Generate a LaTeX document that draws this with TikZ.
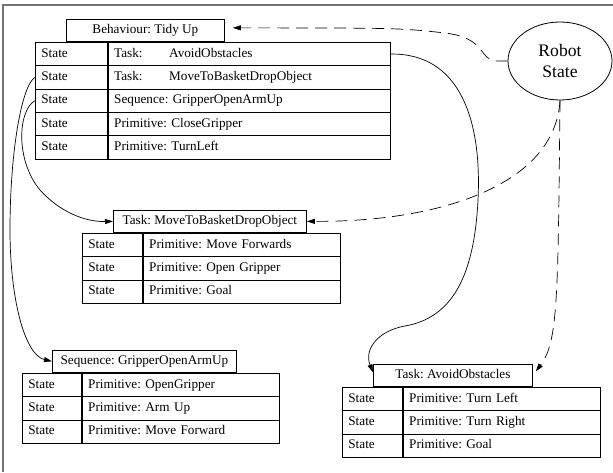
\documentclass[tikz,border=0pt]{standalone}
\usepackage{fontspec}
\setmainfont{Liberation Serif}
\usetikzlibrary{positioning,arrows.meta,shapes.geometric}
\frenchspacing
\newcommand{\tabfont}{\fontsize{13.2}{15}\selectfont}
\newcommand{\tasklabel}[1]{\makebox[55pt][l]{Task:}#1}
\tikzset{
    cell/.style={%
        draw, line width=0.8pt, anchor=north west,
        text width=#1, align=left,
        inner xsep=6pt, inner ysep=0pt,
        minimum height=23.3pt,
        text height=9.5pt, text depth=3pt,
        font=\tabfont
        },
    cell/.default=48pt,
    header/.style={%
        draw, line width=0.8pt, minimum width=#1,
        minimum height=22.5pt, inner sep=0pt,
        text height=9.5pt, text depth=3pt,
        font=\tabfont
        },
    link/.style={-{Triangle[length=8pt,width=5pt]}, line width=0.7pt},
    statelink/.style={link, dash pattern=on 12pt off 7pt}
}
\begin{document}
\begin{tikzpicture}[x=1pt,y=-1pt]

\useasboundingbox (0,0) rectangle (613,472);
\draw[black!55, line width=1.2pt] (3,472) -- (3,5) -- (613,5);

% behaviour table
\foreach \txt [count=\i] in {{\tasklabel{AvoidObstacles}}, {\tasklabel{MoveToBasketDropObject}},
    {Sequence: GripperOpenArmUp}, {Primitive: CloseGripper}, {Primitive: TurnLeft}} {
  \node[cell=60pt] (tidy-s\i) at (35, 42+23.3*\i-23.3) {State};
  \node[cell=270pt, right=0pt of tidy-s\i] (tidy-t\i) {\txt};
}
\node[header=158pt, above right=0pt and 31pt of tidy-s1.north west] (tidy) {Behaviour: Tidy Up};

% task table
\foreach \txt [count=\i] in {{Primitive: Move Forwards}, {Primitive: Open Gripper}, {Primitive: Goal}} {
  \node[cell] (mtb-s\i) at (82, 233+23.3*\i-23.3) {State};
  \node[cell=185pt, right=0pt of mtb-s\i] (mtb-t\i) {\txt};
}
\node[header=193pt, above right=0pt and 31pt of mtb-s1.north west] (mtb) {Task: MoveToBasketDropObject};

% sequence table
\foreach \txt [count=\i] in {{Primitive: OpenGripper}, {Primitive: Arm Up}, {Primitive: Move Forward}} {
  \node[cell=47pt] (seq-s\i) at (22, 373+23.3*\i-23.3) {State};
  \node[cell=185pt, right=0pt of seq-s\i] (seq-t\i) {\txt};
}
\node[header=184pt, above right=0pt and 30pt of seq-s1.north west] (seq) {Sequence: GripperOpenArmUp};

% avoid table
\foreach \txt [count=\i] in {{Primitive: Turn Left}, {Primitive: Turn Right}, {Primitive: Goal}} {
  \node[cell] (avoid-s\i) at (342, 387+23.3*\i-23.3) {State};
  \node[cell=185pt, right=0pt of avoid-s\i] (avoid-t\i) {\txt};
}
\node[header=159pt, above right=0pt and 31pt of avoid-s1.north west] (avoid) {Task: AvoidObstacles};

\node[ellipse, draw, line width=0.8pt, minimum width=104pt, minimum height=78pt, inner sep=0pt,
  align=center, font=\fontsize{17.6}{21}\selectfont] (robot) at (560,61) {Robot\\State};

% robot state links
\draw[statelink] (robot.west) -- ++(-10,0) .. controls (478,61) and (488,38) .. (445,33)
  .. controls (400,28) .. ([xshift=8pt,yshift=2.5pt]tidy.east);
\draw[statelink] (robot.south) .. controls (555,185) and (440,222) .. (mtb.east);
\draw[statelink] (robot.south) .. controls (558,300) and (558,342) .. ([xshift=3pt,yshift=4pt]avoid.east);

% state links
\draw[link] (tidy-t1.east) .. controls (460,53) and (482,120) .. (478,200)
  .. controls (474,280) and (450,318) .. (405,326)
  .. controls (377,331) and (364,350) .. ([yshift=3pt]avoid.west);
\draw[link] (tidy-s2.west) .. controls (22,85) and (10,150) .. (10,230)
  .. controls (10,300) and (25,355) .. (seq.west);
\draw[link] (tidy-s3.west) .. controls (18,110) and (15,160) .. (40,190)
  .. controls (60,212) and (85,222) .. (mtb.west);

\end{tikzpicture}
\end{document}
